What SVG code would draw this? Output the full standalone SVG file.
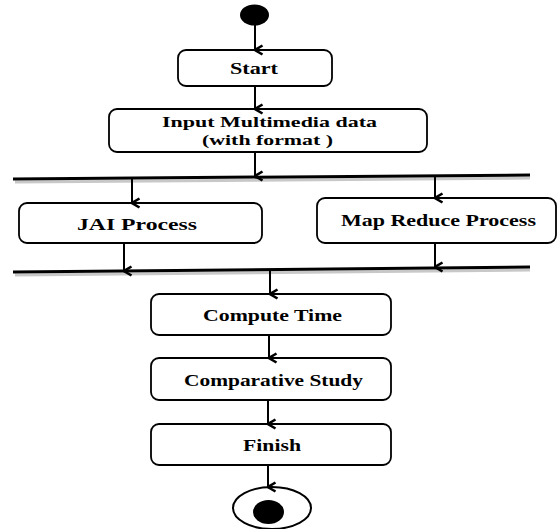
<svg xmlns="http://www.w3.org/2000/svg" width="558" height="529" viewBox="0 0 558 529">
<defs>
<style>
.box{fill:#fff;stroke:#000;stroke-width:1.8}
.lbl{font-family:"Liberation Serif","Times New Roman",serif;font-weight:bold;font-size:17px;fill:#000;text-anchor:middle}
.sm{font-size:15.5px}
.edge{stroke:#000;stroke-width:2;fill:none}
.bar{stroke:#000;stroke-width:3;fill:none}
.shadow{stroke:#c8c8c8;stroke-width:3;fill:none}
</style>
<marker id="arr" markerUnits="userSpaceOnUse" viewBox="0 0 12 10" refX="6" refY="9" markerWidth="12" markerHeight="10" orient="auto-start-reverse">
<path d="M1.5,1.5 L6,9 L10.5,1.5" fill="none" stroke="#000" stroke-width="2.6"/>
</marker>
</defs>
<rect width="558" height="529" fill="#fff"/>

<g id="initial">
<ellipse cx="254.5" cy="15" rx="14.5" ry="10.5" fill="#000"/>
</g>

<g id="start">
<rect class="box" x="178" y="50" width="154" height="36" rx="8"/>
<text class="lbl" x="254" y="74" textLength="48" lengthAdjust="spacingAndGlyphs">Start</text>
</g>

<g id="input">
<rect class="box" x="109" y="109" width="318" height="43" rx="8"/>
<text class="lbl sm" x="269.5" y="126.5" textLength="215" lengthAdjust="spacingAndGlyphs">Input Multimedia data</text>
<text class="lbl sm" x="267.5" y="145" textLength="131" lengthAdjust="spacingAndGlyphs">(with format )</text>
</g>

<g id="fork">
<line class="shadow" x1="15" y1="182" x2="530" y2="178"/>
<line class="bar" x1="13" y1="179" x2="530" y2="175"/>
</g>

<g id="jai">
<rect class="box" x="19" y="203" width="243" height="40" rx="8"/>
<text class="lbl" x="137" y="230" textLength="120" lengthAdjust="spacingAndGlyphs">JAI Process</text>
</g>

<g id="mapreduce">
<rect class="box" x="317" y="198" width="239" height="45" rx="8"/>
<text class="lbl" x="438.5" y="226" textLength="195" lengthAdjust="spacingAndGlyphs">Map Reduce Process</text>
</g>

<g id="join">
<line class="shadow" x1="15" y1="275" x2="530" y2="270"/>
<line class="bar" x1="13" y1="272" x2="530" y2="267"/>
</g>

<g id="compute">
<rect class="box" x="151" y="294" width="240" height="41" rx="8"/>
<text class="lbl" x="272.5" y="321" textLength="139" lengthAdjust="spacingAndGlyphs">Compute Time</text>
</g>

<g id="comparative">
<rect class="box" x="151" y="358" width="240" height="42" rx="8"/>
<text class="lbl" x="273.5" y="386" textLength="179" lengthAdjust="spacingAndGlyphs">Comparative Study</text>
</g>

<g id="finish">
<rect class="box" x="151" y="424" width="240" height="41" rx="8"/>
<text class="lbl" x="272" y="451" textLength="58" lengthAdjust="spacingAndGlyphs">Finish</text>
</g>

<g id="final">
<ellipse cx="272" cy="508" rx="39" ry="21" fill="#fff" stroke="#000" stroke-width="2"/>
<ellipse cx="268.5" cy="512" rx="15.5" ry="12" fill="#000"/>
</g>

<g id="connectors">
<line class="edge" x1="255" y1="24" x2="255" y2="50" marker-end="url(#arr)"/>
<line class="edge" x1="255" y1="86" x2="255" y2="109" marker-end="url(#arr)"/>
<line class="edge" x1="255" y1="152" x2="255" y2="176" marker-end="url(#arr)"/>
<line class="edge" x1="132" y1="179" x2="132" y2="203" marker-end="url(#arr)"/>
<line class="edge" x1="435" y1="176" x2="435" y2="198" marker-end="url(#arr)"/>
<line class="edge" x1="124" y1="243" x2="124" y2="271" marker-end="url(#arr)"/>
<line class="edge" x1="435" y1="243" x2="435" y2="267" marker-end="url(#arr)"/>
<line class="edge" x1="270" y1="270" x2="270" y2="294" marker-end="url(#arr)"/>
<line class="edge" x1="269" y1="335" x2="269" y2="358" marker-end="url(#arr)"/>
<line class="edge" x1="268" y1="400" x2="268" y2="424" marker-end="url(#arr)"/>
<line class="edge" x1="268" y1="465" x2="268" y2="487" marker-end="url(#arr)"/>
</g>
</svg>
